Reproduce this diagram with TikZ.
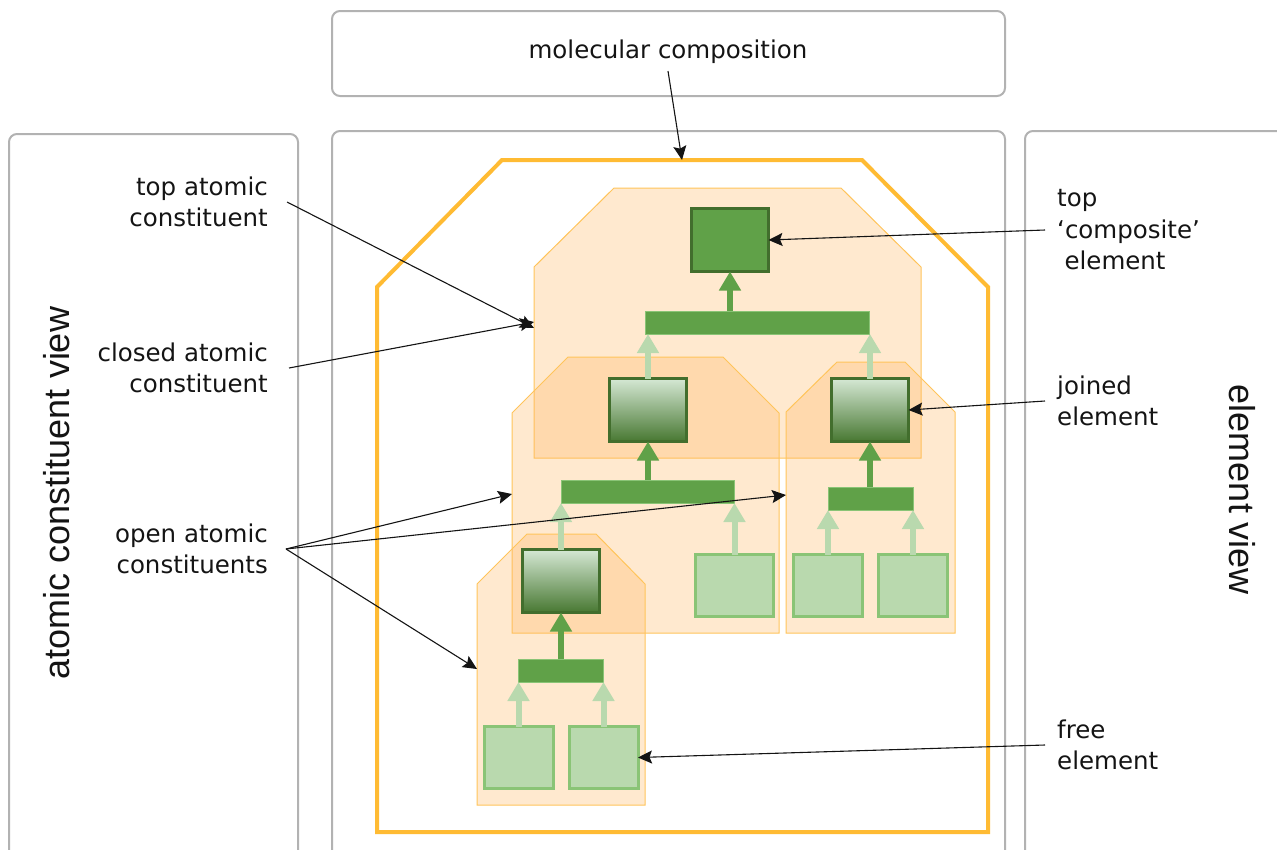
\documentclass[tikz,border=0pt]{standalone}
\usepackage{fontspec}
\setmainfont{DejaVu Sans}
\newfontfamily\vistafont{Liberation Sans}
\usepackage{tikz}
\usetikzlibrary{arrows.meta, shapes.geometric}
\usepackage{xcolor}
\definecolor{grigioCornice}{RGB}{178,178,178}
\definecolor{arancioForte}{RGB}{255,187,51}
\definecolor{arancioBordo}{RGB}{255,196,90}
\definecolor{arancioFondo}{RGB}{255,182,95}
\definecolor{verdeMedio}{RGB}{96,161,72}
\definecolor{verdeScuro}{RGB}{66,110,45}
\definecolor{verdeChiaro}{RGB}{185,217,174}
\definecolor{verdeBordo}{RGB}{138,196,118}
\definecolor{verdePallido}{RGB}{213,232,212}
\definecolor{verdeFondo}{RGB}{72,120,50}
\definecolor{testo}{RGB}{20,20,20}
\newcommand{\corpo}{\fontsize{24.5}{31.5}\selectfont}

\begin{document}
\begin{tikzpicture}[x = 1pt, y = -1pt,
    cornice/.style = {draw = grigioCornice, line width = 2pt, rounded corners = 8pt},
    molecola/.style = {draw = arancioForte, line width = 4pt},
    costituente/.style = {draw = arancioBordo, line width = 1pt, fill = arancioFondo, fill opacity = 0.3},
    composto/.style = {rectangle, draw = verdeScuro, fill = verdeMedio, line width = 3pt,
        minimum width = 77pt, minimum height = 63pt, inner sep = 0pt, outer sep = 0pt},
    unito/.style = {composto, top color = verdePallido, bottom color = verdeFondo},
    libero/.style = {rectangle, draw = verdeBordo, fill = verdeChiaro, line width = 3pt,
        minimum width = 69pt, minimum height = 62pt, inner sep = 0pt, outer sep = 0pt},
    barra/.style = {rectangle, draw = verdeBordo, fill = verdeMedio, line width = 0.6pt,
        minimum height = 23pt, inner sep = 0pt, outer sep = 0pt},
    salita/.style = {line width = 6pt, -{Triangle[width = 21pt, length = 19pt]}},
    salitaScura/.style = {salita, draw = verdeMedio},
    salitaChiara/.style = {salita, draw = verdeChiaro},
    freccia/.style = {draw = testo, line width = 1.1pt, -{Stealth[length = 14pt, width = 13pt, inset = 2.5pt]}},
    etichetta/.style = {font = \corpo, text = testo, inner sep = 0pt},
    vista/.style = {font = \vistafont\fontsize{36}{40}\selectfont, text = testo, inner sep = 0pt}]
    % Parametri
    \pgfmathsetmacro{\base}{870}
    \useasboundingbox (0,0) rectangle (1277,849);
    % Cornici
    \draw[cornice] (332,11) rectangle (1005,96);
    \draw[cornice] (9,134) rectangle (298,\base);
    \draw[cornice] (332,131) rectangle (1005,\base);
    \draw[cornice] (1025,131) rectangle (1300,\base);
    % Composizione molecolare
    \draw[molecola] (377,287) -- (502,160) -- (862,160) -- (988,287) -- (988,832) -- (377,832) -- cycle;
    % Costituenti atomici
    \draw[costituente] (534,267) -- (614,188) -- (841,188) -- (921,267) -- (921,458) -- (534,458) -- cycle;
    \draw[costituente] (512,413) -- (568,357) -- (723,357) -- (779,413) -- (779,633) -- (512,633) -- cycle;
    \draw[costituente] (786,412) -- (837,362) -- (905,362) -- (955,412) -- (955,633) -- (786,633) -- cycle;
    \draw[costituente] (477,584) -- (527,534) -- (596,534) -- (645,584) -- (645,805) -- (477,805) -- cycle;
    \coordinate (molcima) at (682,160);
    \coordinate (topsx) at (534,328);
    \coordinate (chiusosx) at (534,322);
    \coordinate (mediosx) at (512,494);
    \coordinate (destrosx) at (786,495);
    \coordinate (bassosx) at (477,669);
    % Elementi
    \node[composto] (cima) at (730,240) {};
    \node[barra, minimum width = 224pt] (barra1) at (757,322.5) {};
    \node[unito] (unitosx) at (648,410) {};
    \node[unito] (unitodx) at (870,410) {};
    \node[barra, minimum width = 173pt] (barra2) at (647.5,491.5) {};
    \node[barra, minimum width = 85pt] (barra3) at (870.5,498.5) {};
    \node[unito] (unitobasso) at (561,581) {};
    \node[libero, minimum width = 78pt] (libero1) at (734.5,585.5) {};
    \node[libero] (libero2) at (828,585.5) {};
    \node[libero] (libero3) at (913,585.5) {};
    \node[barra, minimum width = 85pt] (barra4) at (560.5,670.5) {};
    \node[libero] (libero4) at (518.5,757.5) {};
    \node[libero] (libero5) at (603.5,757.5) {};
    % Frecce verdi
    \draw[salitaScura] (barra1.north -| cima) -- (cima.south);
    \draw[salitaChiara] (unitosx.north) -- (unitosx.north |- barra1.south);
    \draw[salitaChiara] (unitodx.north) -- (unitodx.north |- barra1.south);
    \draw[salitaScura] (barra2.north -| unitosx) -- (unitosx.south);
    \draw[salitaScura] (barra3.north -| unitodx) -- (unitodx.south);
    \draw[salitaChiara] (unitobasso.north) -- (unitobasso.north |- barra2.south);
    \draw[salitaChiara] (libero1.north) -- (libero1.north |- barra2.south);
    \draw[salitaChiara] (libero2.north) -- (libero2.north |- barra3.south);
    \draw[salitaChiara] (libero3.north) -- (libero3.north |- barra3.south);
    \draw[salitaScura] (barra4.north -| unitobasso) -- (unitobasso.south);
    \draw[salitaChiara] (libero4.north) -- (libero4.north |- barra4.south);
    \draw[salitaChiara] (libero5.north) -- (libero5.north |- barra4.south);
    % Etichette
    \node[etichetta] (lblmol) at (668,52) {molecular composition};
    \node[etichetta, align = right, anchor = east] (lbltop) at (268,202) {top atomic\\constituent};
    \node[etichetta, align = right, anchor = east] (lblchiuso) at (268,368) {closed atomic\\constituent};
    \node[etichetta, align = right, anchor = east] (lblaperto) at (268,549) {open atomic\\constituents};
    \node[etichetta, align = left, anchor = west] (lblcomp) at (1057,230) {top\\‘composite’\\\hspace*{0.3em}element};
    \node[etichetta, align = left, anchor = west] (lblunito) at (1057,401) {joined\\element};
    \node[etichetta, align = left, anchor = west] (lbllibero) at (1057,745) {free\\element};
    \node[vista, rotate = 90] (vistaatomi) at (57,493) {atomic constituent view};
    \node[vista, rotate = -90] (vistaelem) at (1242,490) {element view};
    % Frecce nere
    \draw[freccia] ([yshift = -7pt]lblmol.south) -- (molcima);
    \draw[freccia] ([xshift = 19pt]lbltop.east) -- (topsx);
    \draw[freccia] ([xshift = 21pt]lblchiuso.east) -- (chiusosx);
    \draw[freccia] ([xshift = 18pt]lblaperto.east) -- (mediosx);
    \draw[freccia] ([xshift = 18pt]lblaperto.east) -- (destrosx);
    \draw[freccia] ([xshift = 18pt]lblaperto.east) -- (bassosx);
    \draw[freccia] ([xshift = -12pt]lblcomp.west) -- (cima.east);
    \draw[freccia] ([xshift = -12pt]lblunito.west) -- (unitodx.east);
    \draw[freccia] ([xshift = -12pt]lbllibero.west) -- (libero5.east);
\end{tikzpicture}
\end{document}
